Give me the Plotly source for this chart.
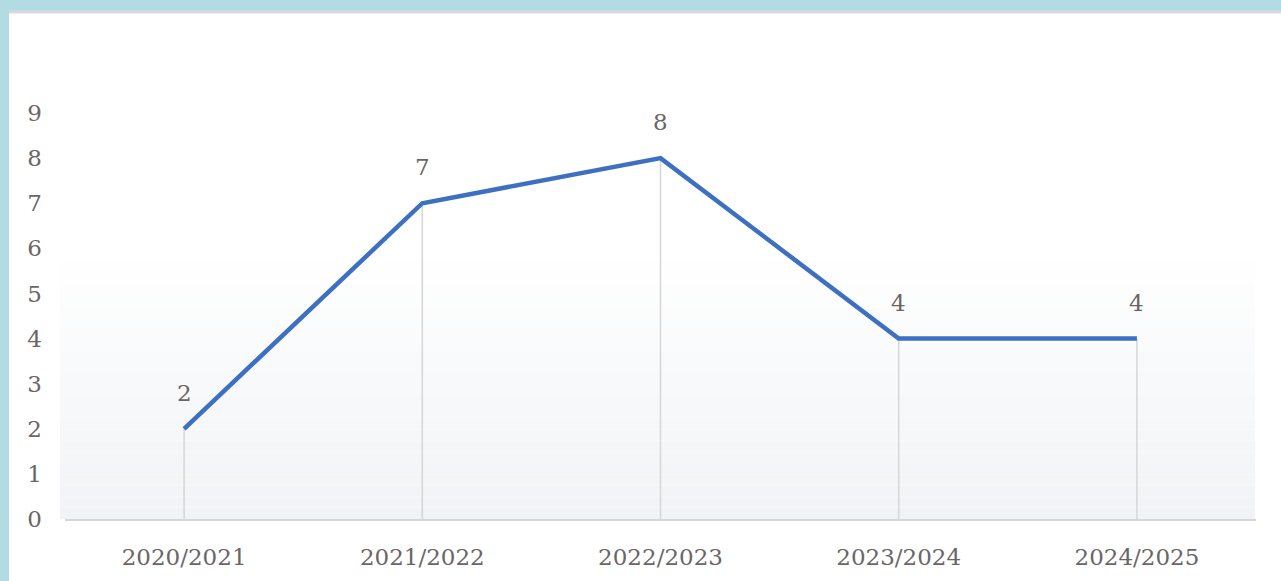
import plotly.graph_objects as go

seasons = ["2020/2021", "2021/2022", "2022/2023", "2023/2024", "2024/2025"]
counts = [2, 7, 8, 4, 4]
y_ticks = [0, 1, 2, 3, 4, 5, 6, 7, 8, 9]

W, H = 1281, 581
ML, MR, MT, MB = 65, 25, 113, 62
PW = W - ML - MR
PH = H - MT - MB

def px_x(p):
    return (p - ML) / PW

def px_y(p):
    return (H - MB - p) / PH

FONT = "DejaVu Serif"
TXT = "#6b6666"

fig = go.Figure()

# drop lines from each point to the axis
fig.add_trace(go.Scatter(
    x=seasons, y=counts, mode="markers",
    marker=dict(size=0.1, color="rgba(0,0,0,0)"),
    error_y=dict(type="data", symmetric=False, array=[0] * len(counts),
                 arrayminus=counts, color="#d6d6d6", thickness=1.5, width=0),
    hoverinfo="skip", showlegend=False,
))

fig.add_trace(go.Scatter(
    x=seasons, y=counts, mode="lines",
    line=dict(color="#3d70c0", width=4.5),
    showlegend=False,
))

for s, v in zip(seasons, counts):
    fig.add_annotation(x=s, y=v, text=str(v), showarrow=False, yshift=36,
                       font=dict(family=FONT, size=23, color=TXT))

shapes = []
# white panel on blue textured background
shapes.append(dict(type="rect", xref="paper", yref="paper",
                   x0=px_x(9), x1=px_x(W + 5), y0=px_y(H + 5), y1=px_y(11),
                   fillcolor="white", line=dict(width=0), layer="below"))
shapes.append(dict(type="line", xref="paper", yref="paper",
                   x0=px_x(9), x1=px_x(W + 5), y0=px_y(12), y1=px_y(12),
                   line=dict(color="#d9d9d9", width=3), layer="below"))
# soft gradient band in the lower part of the plot
top_px, bot_px = 250, 519
n = 24
c0 = (255, 255, 255)
c1 = (241, 243, 246)
for i in range(n):
    a = top_px + (bot_px - top_px) * i / n
    b = top_px + (bot_px - top_px) * (i + 1) / n
    t = (i + 0.5) / n
    col = tuple(round(c0[k] + (c1[k] - c0[k]) * t) for k in range(3))
    shapes.append(dict(type="rect", xref="paper", yref="paper",
                       x0=px_x(60), x1=px_x(1255), y0=px_y(b), y1=px_y(a),
                       fillcolor="rgb(%d,%d,%d)" % col, line=dict(width=0),
                       layer="below"))

fig.update_layout(
    width=W, height=H,
    margin=dict(l=ML, r=MR, t=MT, b=MB),
    paper_bgcolor="#b2dbe4",
    plot_bgcolor="rgba(0,0,0,0)",
    shapes=shapes,
    font=dict(family=FONT, size=23, color=TXT),
    xaxis=dict(
        type="category", range=[-0.5, len(seasons) - 0.5],
        showgrid=False, zeroline=False,
        showline=True, linecolor="#d6d6d6", linewidth=2,
        ticks="", ticklabelstandoff=16,
        tickfont=dict(family=FONT, size=23, color=TXT),
    ),
    yaxis=dict(
        range=[0, 9], tickvals=y_ticks,
        showgrid=False, zeroline=False, showline=False,
        ticks="", ticklabelstandoff=22,
        tickfont=dict(family=FONT, size=23, color=TXT),
    ),
)

fig.write_html("out.html")
